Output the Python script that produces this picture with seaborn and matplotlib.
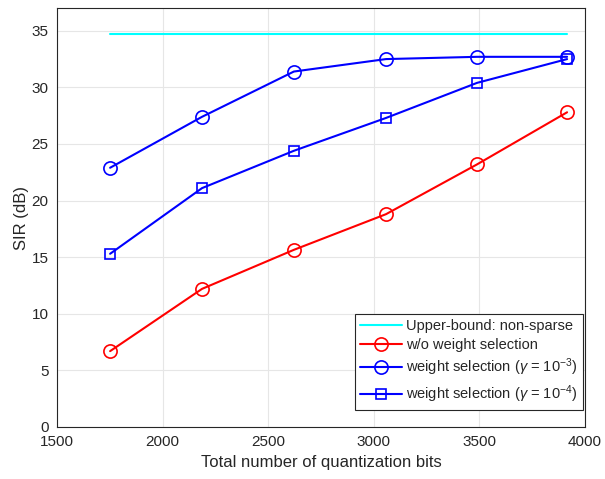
import matplotlib
matplotlib.use("Agg")
import matplotlib.pyplot as plt
import seaborn as sns
import pandas as pd

bits = [1752, 2187, 2622, 3058, 3489, 3915]
upper_bound = [34.75, 34.75, 34.75, 34.75, 34.75, 34.75]
wo_selection = [6.7, 12.2, 15.65, 18.8, 23.2, 27.8]
sel_gamma3 = [22.9, 27.4, 31.4, 32.5, 32.7, 32.7]
sel_gamma4 = [15.3, 21.1, 24.4, 27.3, 30.4, 32.5]

labels = ["Upper-bound: non-sparse", "w/o weight selection",
          r"weight selection ($\gamma$ = 10$^{-3}$)",
          r"weight selection ($\gamma$ = 10$^{-4}$)"]

sns.set_style("whitegrid")
plt.rcParams['font.family'] = ['Liberation Sans', 'DejaVu Sans']
plt.rcParams['mathtext.fontset'] = 'custom'
plt.rcParams['mathtext.rm'] = 'Liberation Sans'
plt.rcParams['mathtext.it'] = 'Liberation Sans:italic'

fig = plt.figure(figsize=(6.05, 4.79), dpi=100)
ax = fig.add_axes([0.094, 0.1086, 0.873, 0.8744])

series = [
    (upper_bound, labels[0], "#00FFFF", None, 0),
    (wo_selection, labels[1], "#FF0000", "o", 9.5),
    (sel_gamma3, labels[2], "#0000FF", "o", 9.5),
    (sel_gamma4, labels[3], "#0000FF", "s", 7),
]
for vals, lab, col, mk, ms in series:
    df = pd.DataFrame({"bits": bits, "sir": vals})
    sns.lineplot(data=df, x="bits", y="sir", ax=ax, color=col, label=lab,
                 marker=mk, markersize=ms, markerfacecolor="none",
                 markeredgecolor=col, markeredgewidth=1.2, linewidth=1.5)

ax.set_xlim(1500, 4000)
ax.set_ylim(0, 37)
ax.set_xticks([1500, 2000, 2500, 3000, 3500, 4000])
ax.set_yticks([0, 5, 10, 15, 20, 25, 30, 35])
ax.set_xlabel("Total number of quantization bits", fontsize=12, labelpad=4)
ax.set_ylabel("SIR (dB)", fontsize=12, labelpad=2)
ax.tick_params(labelsize=11, colors="#262626", length=4, direction="in", pad=6)
for s in ax.spines.values():
    s.set_color("#262626")
    s.set_linewidth(0.8)
ax.grid(True, color="#e6e6e6", linewidth=0.8)

leg = ax.legend(loc="lower right", fontsize=10.5, frameon=True, fancybox=False,
                edgecolor="#262626", framealpha=1, borderpad=0.35,
                handlelength=2.9, handletextpad=0.3, labelspacing=0.35,
                borderaxespad=0, bbox_to_anchor=(0.996, 0.04))
leg.get_frame().set_linewidth(0.8)

fig.savefig("out.png", dpi=100)
